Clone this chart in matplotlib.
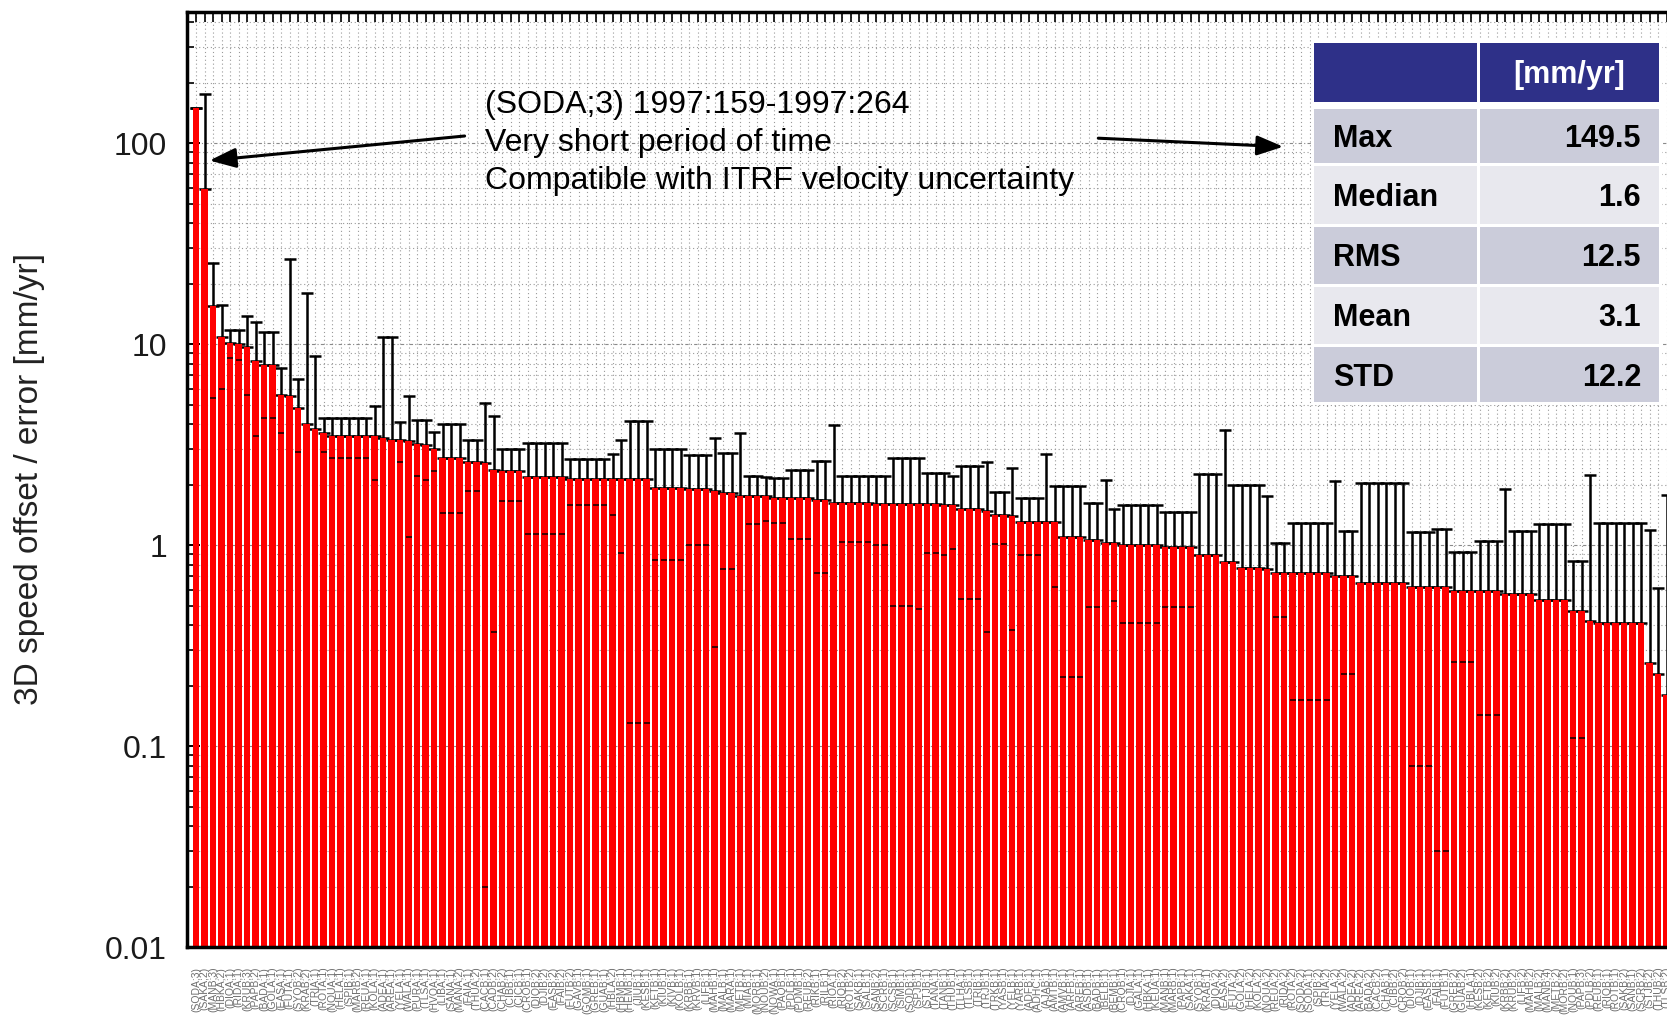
import numpy as np
import matplotlib
matplotlib.use("Agg")
import matplotlib.pyplot as plt
from matplotlib.patches import Rectangle
from matplotlib.ticker import LogLocator, NullFormatter, FixedLocator

# ---------------- data ----------------
speed_offset = [
    149.5, 59.0, 15.4, 10.8, 10.1, 10.0, 9.7, 8.2, 7.9, 7.9,
    5.6, 5.5, 4.8, 4.0, 3.8, 3.6, 3.5, 3.5, 3.5, 3.5,
    3.5, 3.5, 3.4, 3.35, 3.35, 3.3, 3.2, 3.15, 3.0, 2.72,
    2.72, 2.72, 2.6, 2.6, 2.56, 2.37, 2.33, 2.33, 2.33, 2.18,
    2.18, 2.18, 2.18, 2.18, 2.13, 2.13, 2.13, 2.13, 2.13, 2.13,
    2.13, 2.13, 2.13, 2.13, 1.92, 1.92, 1.92, 1.92, 1.9, 1.9,
    1.9, 1.87, 1.82, 1.82, 1.76, 1.75, 1.75, 1.75, 1.72, 1.72,
    1.72, 1.72, 1.72, 1.68, 1.68, 1.63, 1.63, 1.63, 1.63, 1.63,
    1.61, 1.61, 1.61, 1.61, 1.61, 1.6, 1.6, 1.6, 1.59, 1.59,
    1.51, 1.51, 1.51, 1.48, 1.42, 1.42, 1.4, 1.3, 1.3, 1.3,
    1.3, 1.3, 1.1, 1.1, 1.1, 1.06, 1.06, 1.02, 1.02, 1.0,
    1.0, 1.0, 1.0, 1.0, 0.98, 0.98, 0.98, 0.98, 0.89, 0.89,
    0.89, 0.82, 0.82, 0.77, 0.77, 0.77, 0.76, 0.73, 0.73, 0.73,
    0.73, 0.73, 0.73, 0.73, 0.70, 0.70, 0.70, 0.65, 0.65, 0.65,
    0.65, 0.65, 0.65, 0.62, 0.62, 0.62, 0.62, 0.62, 0.593, 0.593,
    0.593, 0.593, 0.593, 0.593, 0.57, 0.57, 0.57, 0.57, 0.535, 0.535,
    0.535, 0.535, 0.47, 0.47, 0.42, 0.41, 0.41, 0.41, 0.41, 0.41,
    0.41, 0.26, 0.23, 0.18,
]

speed_error = [
    0.0, 116.0, 10.0, 4.8, 1.6, 1.7, 4.1, 4.7, 3.6, 3.6,
    2.0, 21.0, 1.9, 13.9, 4.9, 0.7, 0.8, 0.8, 0.8, 0.8,
    0.8, 1.4, 7.5, 7.5, 0.75, 2.2, 1.0, 1.05, 0.65, 1.28,
    1.28, 1.28, 0.75, 0.75, 2.54, 2.0, 0.67, 0.67, 0.67, 1.05,
    1.05, 1.05, 1.05, 1.05, 0.55, 0.55, 0.55, 0.55, 0.55, 0.72,
    1.22, 2.0, 2.0, 2.0, 1.08, 1.08, 1.08, 1.08, 0.9, 0.9,
    0.9, 1.56, 1.06, 1.06, 1.84, 0.47, 0.47, 0.43, 0.43, 0.43,
    0.65, 0.65, 0.65, 0.95, 0.95, 2.32, 0.59, 0.59, 0.59, 0.59,
    0.61, 0.61, 1.11, 1.11, 1.11, 1.12, 0.69, 0.69, 0.70, 0.63,
    0.97, 0.97, 0.97, 1.11, 0.41, 0.41, 1.02, 0.41, 0.41, 0.41,
    1.55, 0.68, 0.88, 0.88, 0.88, 0.57, 0.57, 1.10, 0.49, 0.59,
    0.59, 0.59, 0.59, 0.59, 0.49, 0.49, 0.49, 0.49, 1.38, 1.38,
    1.38, 2.93, 1.18, 1.23, 1.23, 1.23, 0.99, 0.29, 0.29, 0.56,
    0.56, 0.56, 0.56, 0.56, 1.39, 0.47, 0.47, 1.38, 1.38, 1.38,
    1.38, 1.38, 1.38, 0.54, 0.54, 0.54, 0.59, 0.59, 0.33, 0.33,
    0.33, 0.45, 0.45, 0.45, 1.33, 0.61, 0.61, 0.61, 0.74, 0.74,
    0.74, 0.74, 0.36, 0.36, 1.82, 0.88, 0.88, 0.88, 0.88, 0.88,
    0.88, 0.93, 0.38, 1.60,
]

station_labels = [
    "(SODA;3)", "(SAKA;2)", "(MANB;3)", "(HBKA;2)", "(DIOA;1)", "(RIDA;1)", "(KRUB;3)", "(PAPB;2)", "(BADA;1)", "(GOLA;1)",
    "(EASA;1)", "(FUTA;1)", "(SYOB;2)", "(KRAB;2)", "(TRIA;1)", "(ROTA;1)", "(NOUA;1)", "(HELA;1)", "(SPIB;1)", "(MARB;2)",
    "(REUA;1)", "(KOLA;1)", "(ADEA;1)", "(AREA;1)", "(YELA;1)", "(WALA;1)", "(PURA;1)", "(TLSA;1)", "(HVOA;1)", "(LIBA;1)",
    "(SANA;1)", "(MANA;2)", "(FAIA;1)", "(THUA;2)", "(CACB;1)", "(CADB;2)", "(CHAB;2)", "(CIBB;1)", "(CICB;1)", "(CROB;1)",
    "(DIOB;2)", "(DJIB;2)", "(EASB;2)", "(FAIB;2)", "(FUTB;2)", "(GAVB;1)", "(GOMB;1)", "(GREB;1)", "(GUAB;1)", "(HBLA;2)",
    "(HBMB;1)", "(HEMB;1)", "(JIUB;1)", "(KESB;1)", "(KETB;1)", "(KIUB;1)", "(KIVB;1)", "(KOLB;1)", "(KRBB;1)", "(KRVB;1)",
    "(LIFB;1)", "(MAHB;1)", "(MALB;1)", "(MARA;1)", "(METB;1)", "(MIAB;1)", "(MORB;1)", "(NOUB;2)", "(NOWA;1)", "(PAQB;1)",
    "(PDLB;1)", "(PDMB;1)", "(REUB;2)", "(RIKB;1)", "(RILB;1)", "(RIOA;1)", "(RIOB;2)", "(ROTB;2)", "(SAKB;1)", "(SALB;1)",
    "(SANB;2)", "(SCRB;1)", "(SCSB;1)", "(SIMB;1)", "(SODB;1)", "(SPJB;1)", "(STJB;1)", "(TANA;1)", "(TANB;1)", "(THUB;1)",
    "(TLHA;1)", "(TLSB;1)", "(TRIB;1)", "(TRJB;1)", "(TRKB;1)", "(YASB;1)", "(YELB;1)", "(YARB;1)", "(ADFB;1)", "(ADHC;1)",
    "(AJAB;1)", "(AMTB;1)", "(AMVB;1)", "(ARFB;1)", "(AREB;1)", "(ASDB;1)", "(BADB;1)", "(BELB;1)", "(BEMB;1)", "(CRQB;1)",
    "(DJIA;1)", "(GALA;1)", "(HBKA;1)", "(KEUA;1)", "(MANB;1)", "(MARB;1)", "(PAPB;1)", "(SAKA;1)", "(SYOB;1)", "(KRAB;1)",
    "(DIOA;2)", "(EASA;2)", "(FUTA;2)", "(GOLA;2)", "(HELA;2)", "(KOLA;2)", "(NOUA;2)", "(REUA;2)", "(RIDA;2)", "(ROTA;2)",
    "(SODA;2)", "(SODA;1)", "(SPIB;2)", "(TRIA;2)", "(YELA;2)", "(WALA;2)", "(ADEA;2)", "(AREA;2)", "(BADA;2)", "(CACB;2)",
    "(CHAB;1)", "(CIBB;2)", "(CROB;2)", "(DIOB;1)", "(DJIB;1)", "(EASB;1)", "(FAIB;1)", "(FUTB;1)", "(GREB;2)", "(GUAB;2)",
    "(HBLA;1)", "(KESB;2)", "(KETB;2)", "(KIUB;2)", "(KRBB;2)", "(KRUB;2)", "(LIFB;2)", "(MAHB;2)", "(MALB;2)", "(MANB;4)",
    "(METB;2)", "(MORB;2)", "(NOUB;1)", "(PAPB;3)", "(PDLB;2)", "(REUB;1)", "(RIOB;1)", "(ROTB;1)", "(SAKB;2)", "(SANB;1)",
    "(SCRB;2)", "(STJB;2)", "(THUB;2)", "(TLSB;2)",
]

ytick_values = [0.01, 0.1, 1, 10, 100]
ytick_labels = ["0.01", "0.1", "1", "10", "100"]

stat_names = ["Max", "Median", "RMS", "Mean", "STD"]
stat_values = ["149.5", "1.6", "12.5", "3.1", "12.2"]
stat_unit = "[mm/yr]"

annotation_lines = [
    "(SODA;3) 1997:159-1997:264",
    "Very short period of time",
    "Compatible with ITRF velocity uncertainty",
]
y_label = "3D speed offset / error [mm/yr]"

# ---------------- figure ----------------
FONT = ["Liberation Sans", "DejaVu Sans"]
plt.rcParams["font.family"] = FONT

W, H = 1667, 1016
fig = plt.figure(figsize=(W / 100, H / 100), dpi=100)
fig.patch.set_facecolor("white")


def fx(px):
    return px / W


def fy(py):
    return 1 - py / H


left_px, right_px, top_px, bot_px = 186.65, 1675.0, 11.7, 947.3
ax = fig.add_axes([fx(left_px), fy(bot_px), (right_px - left_px) / W, (bot_px - top_px) / H])

vals = np.array(speed_offset)
errs = np.array(speed_error)
x = np.arange(1, len(vals) + 1)

ax.set_yscale("log")
ax.set_ylim(0.01, 450)
ax.set_xlim(-0.1, 175)
ax.set_axisbelow(True)

# error bars (behind the bars)
ax.errorbar(x, vals, yerr=[np.zeros_like(errs), errs], fmt="none", ecolor="black",
            elinewidth=1.8, capsize=4.6, capthick=1.8, zorder=1)

ax.bar(x, vals, width=0.8, color="#FF0000", linewidth=0, zorder=2)

# lower error caps visible through the bars
low = vals - errs
mask = (errs > 0) & (low > 0.01)
ax.plot(x[mask], low[mask], ls="none", marker="_", ms=4, mew=1.3, color="#300000", zorder=3)

# ticks
ax.xaxis.set_major_locator(FixedLocator(x))
ax.set_xticklabels(station_labels)
ax.tick_params(axis="x", which="major", direction="in", top=True, bottom=True,
               length=7, width=1.2, labelsize=7.5, labelcolor="#6e6e6e",
               pad=14, labelrotation=90)
ax.set_yticks(ytick_values)
ax.set_yticklabels(ytick_labels)
ax.yaxis.set_minor_locator(LogLocator(base=10, subs=np.arange(2, 10), numticks=100))
ax.yaxis.set_minor_formatter(NullFormatter())
ax.tick_params(axis="y", which="major", direction="in", left=True, right=False,
               length=9, width=1.4, labelsize=23, pad=14, labelcolor="#1a1a1a")
ax.tick_params(axis="y", which="minor", direction="in", left=True, right=False,
               length=5, width=1.2)

# grid
ax.grid(True, axis="x", which="major", color="#9a9a9a", ls=(0, (1, 2.5)), lw=0.8)
ax.grid(True, axis="y", which="major", color="#8a8a8a", ls=(0, (3, 2, 1, 2)), lw=0.8)
ax.grid(True, axis="y", which="minor", color="#9a9a9a", ls=(0, (1, 2.5)), lw=0.8)

for s in ax.spines.values():
    s.set_linewidth(2.5)
    s.set_color("black")

# y label
fig.text(fx(30), fy(479.5), y_label, rotation=90, ha="center", va="center",
         fontsize=24, color="#222222")

# annotation text
for line, base in zip(annotation_lines, [112.5, 150.5, 189.0]):
    fig.text(fx(485), fy(base), line, fontsize=23, va="baseline", ha="left", color="black")

arrow_kw = dict(arrowstyle="-|>,head_length=0.8,head_width=0.3", lw=2.2, color="black",
                mutation_scale=20, shrinkA=0, shrinkB=0)
ax.annotate("", xy=(fx(209.5), fy(160.5)), xytext=(fx(464.6), fy(136.0)),
            xycoords="figure fraction", textcoords="figure fraction",
            arrowprops=arrow_kw, annotation_clip=False)
ax.annotate("", xy=(fx(1283.3), fy(146.7)), xytext=(fx(1098.3), fy(138.2)),
            xycoords="figure fraction", textcoords="figure fraction",
            arrowprops=arrow_kw, annotation_clip=False)

# table
def rect(x0, y0, x1, y1, color, z=10):
    fig.add_artist(Rectangle((fx(x0), fy(y1)), (x1 - x0) / W, (y1 - y0) / H,
                             transform=fig.transFigure, facecolor=color,
                             edgecolor="none", zorder=z))

rect(1311, 40, 1662, 405, "white", z=9)
c1 = (1314, 1477)
c2 = (1480, 1659)
header = (42.7, 102.3)
navy = "#2E3088"
rect(c1[0], header[0], c1[1], header[1], navy)
rect(c2[0], header[0], c2[1], header[1], navy)
fig.text(fx((c2[0] + c2[1]) / 2), fy(header[1] - 19.5), stat_unit, ha="center", va="baseline",
         fontsize=22, fontweight="bold", color="white", zorder=11)

rows = [(109.0, 163.3), (165.7, 224.0), (226.7, 284.0), (286.7, 344.3), (347.3, 402.3)]
row_colors = ["#CBCCDA", "#E8E8EE", "#CBCCDA", "#E8E8EE", "#CBCCDA"]
for (r0, r1), col, name, val in zip(rows, row_colors, stat_names, stat_values):
    rect(c1[0], r0, c1[1], r1, col)
    rect(c2[0], r0, c2[1], r1, col)
    base = (r0 + r1) / 2 + 11
    fig.text(fx(1333), fy(base), name, ha="left", va="baseline", fontsize=22,
             fontweight="bold", color="black", zorder=11)
    fig.text(fx(1641), fy(base), val, ha="right", va="baseline", fontsize=22,
             fontweight="bold", color="black", zorder=11)

fig.savefig("out.png", dpi=100, facecolor="white")
